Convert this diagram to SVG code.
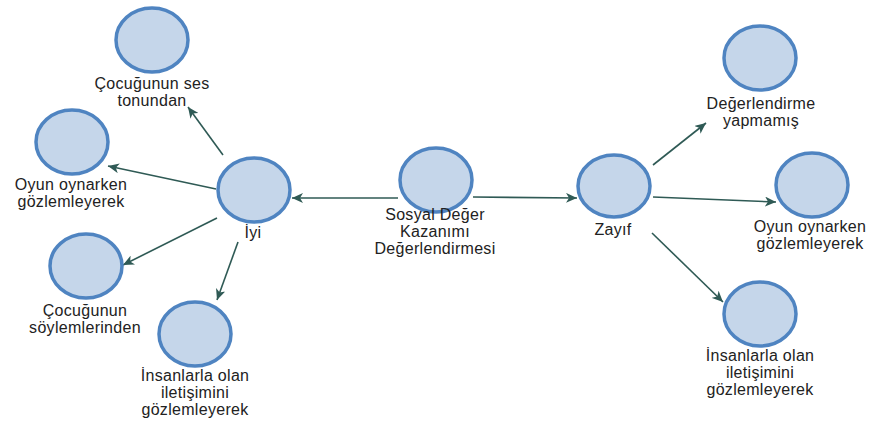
<svg xmlns="http://www.w3.org/2000/svg" width="874" height="424" viewBox="0 0 874 424">
<style>
.n{fill:#c5d6ea;stroke:#4f84c1;stroke-width:3.5}
.t{font-family:"Liberation Sans",Arial,sans-serif;font-size:16px;letter-spacing:0.3px;fill:#222;text-anchor:middle}
.c{stroke:#2f5a55;stroke-width:1.6;fill:none;marker-end:url(#a)}
</style>
<defs>
<marker id="a" markerUnits="userSpaceOnUse" markerWidth="12" markerHeight="10" refX="11" refY="5" orient="auto">
<path d="M0,0 L11,5 L0,10 L3,5 Z" fill="#2f5a55"/>
</marker>
</defs>
<rect width="874" height="424" fill="#fff"/>
<g id="connectors">
<line class="c" x1="398" y1="198" x2="292" y2="198"/>
<line class="c" x1="473" y1="197" x2="577" y2="198"/>
<line class="c" x1="223" y1="155" x2="188" y2="107"/>
<line class="c" x1="216" y1="189" x2="108" y2="166"/>
<line class="c" x1="217" y1="218" x2="123" y2="265"/>
<line class="c" x1="238" y1="242" x2="217" y2="300"/>
<line class="c" x1="653" y1="165" x2="706" y2="123"/>
<line class="c" x1="653" y1="197" x2="776" y2="202"/>
<line class="c" x1="652" y1="233" x2="723" y2="302"/>
</g>
<g id="n-center">
<ellipse class="n" cx="436" cy="180" rx="36" ry="32"/>
<text class="t" x="435" y="220">Sosyal Değer</text>
<text class="t" x="435" y="237">Kazanımı</text>
<text class="t" x="435" y="254">Değerlendirmesi</text>
</g>
<g id="n-iyi">
<ellipse class="n" cx="254" cy="190" rx="36" ry="32"/>
<text class="t" x="253" y="238">İyi</text>
</g>
<g id="n-zayif">
<ellipse class="n" cx="614" cy="186" rx="36" ry="31"/>
<text class="t" x="613" y="235">Zayıf</text>
</g>
<g id="n-ses">
<ellipse class="n" cx="152" cy="40" rx="36" ry="32"/>
<text class="t" x="152" y="89">Çocuğunun ses</text>
<text class="t" x="152" y="106">tonundan</text>
</g>
<g id="n-oyun-l">
<ellipse class="n" cx="72" cy="142" rx="36" ry="32"/>
<text class="t" x="71" y="190">Oyun oynarken</text>
<text class="t" x="71" y="207">gözlemleyerek</text>
</g>
<g id="n-soylem">
<ellipse class="n" cx="86" cy="266" rx="36" ry="32"/>
<text class="t" x="85" y="316">Çocuğunun</text>
<text class="t" x="85" y="333">söylemlerinden</text>
</g>
<g id="n-insan-l">
<ellipse class="n" cx="195" cy="334" rx="36" ry="32"/>
<text class="t" x="195" y="381">İnsanlarla olan</text>
<text class="t" x="195" y="398">iletişimini</text>
<text class="t" x="195" y="415">gözlemleyerek</text>
</g>
<g id="n-deger">
<ellipse class="n" cx="760" cy="58" rx="36" ry="32"/>
<text class="t" x="761" y="109">Değerlendirme</text>
<text class="t" x="761" y="126">yapmamış</text>
</g>
<g id="n-oyun-r">
<ellipse class="n" cx="812" cy="185" rx="36" ry="32"/>
<text class="t" x="810" y="232">Oyun oynarken</text>
<text class="t" x="810" y="249">gözlemleyerek</text>
</g>
<g id="n-insan-r">
<ellipse class="n" cx="760" cy="314" rx="36" ry="32"/>
<text class="t" x="760" y="361">İnsanlarla olan</text>
<text class="t" x="760" y="378">iletişimini</text>
<text class="t" x="760" y="395">gözlemleyerek</text>
</g>
</svg>
